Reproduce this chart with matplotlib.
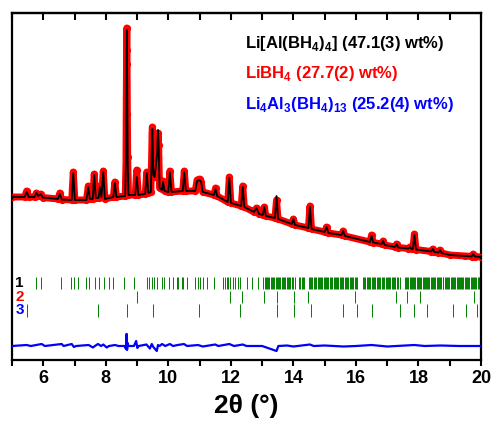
import matplotlib
matplotlib.use("Agg")
import matplotlib.pyplot as plt

plt.rcParams['font.family'] = ['Liberation Sans', 'DejaVu Sans']
plt.rcParams['font.weight'] = 'bold'
plt.rcParams['mathtext.fontset'] = 'custom'
plt.rcParams['mathtext.rm'] = 'Liberation Sans:bold'
plt.rcParams['mathtext.bf'] = 'Liberation Sans:bold'

# profile vertices (2theta, intensity in arbitrary units)
two_theta = [5.00, 5.40, 5.47, 5.54, 5.72, 5.78, 5.84, 5.92, 5.98, 6.47, 6.53, 6.59,
             6.91, 6.96, 7.01, 7.38, 7.44, 7.49, 7.58, 7.63, 7.68, 7.77, 7.81, 7.86,
             7.92, 7.97, 8.24, 8.29, 8.34, 8.62, 8.645, 8.655, 8.665, 8.672, 8.68, 8.69,
             8.70, 8.725, 8.94, 8.99, 9.04, 9.26, 9.31, 9.36, 9.44, 9.465, 9.48, 9.49,
             9.50, 9.52, 9.56, 9.64, 9.67, 9.69, 9.72, 9.80, 9.83, 9.88, 10.00, 10.05,
             10.10, 10.46, 10.51, 10.56, 10.86, 10.92, 11.00, 11.05, 11.10, 11.46, 11.51, 11.56,
             11.90, 11.95, 12.00, 12.33, 12.38, 12.43, 12.74, 12.82, 12.90, 13.02, 13.07, 13.12,
             13.41, 13.46, 13.51, 13.95, 14.00, 14.05, 14.48, 14.53, 14.58, 15.00, 15.06, 15.12,
             15.54, 15.59, 15.65, 16.45, 16.50, 16.55, 16.82, 16.87, 16.92, 17.25, 17.30, 17.35,
             17.68, 17.73, 17.78, 17.82, 17.87, 17.92, 18.41, 18.46, 18.51, 18.64, 18.69, 18.74,
             19.00, 19.50, 19.70, 19.75, 19.80, 20.00]
calc = [163, 163, 168, 163, 163, 167, 164, 166, 162.5, 161, 166, 160.5,
        160, 187, 160, 160, 173, 161, 161, 185, 162, 162, 173, 163,
        188, 161, 163, 177, 163, 164, 200, 250, 300, 330, 300, 250,
        200, 165, 165, 183, 165, 166, 187, 167, 168, 200, 225, 231,
        215, 185, 183, 205, 230, 215, 172, 170, 178, 169, 168, 188,
        168, 169, 188, 169, 169, 179, 180, 178, 168, 165, 171, 164,
        158, 182, 157, 154, 173, 153, 148, 152, 146, 145, 153, 144,
        142, 164, 141, 136, 141, 135, 132, 153, 131, 128, 133, 127,
        125, 129, 124, 118, 124, 117.5, 116, 119, 115, 113, 116, 112.5,
        111.5, 113, 111, 111, 125, 110.5, 108.5, 111, 108, 107.5, 110, 107,
        105, 104, 103.5, 106, 103.5, 103]
obs = [163, 163, 169, 163, 163, 167, 164, 166, 162.5, 161, 167, 160.5,
       160, 188, 160, 160, 174, 161, 161, 186, 162, 162, 174, 163,
       189, 161, 163, 178, 163, 164, 196, 262, 310, 332, 296, 246,
       203, 165, 165, 190, 165, 166, 188, 167, 168, 202, 228, 233,
       215, 185, 183, 200, 227, 215, 172, 171, 179, 169, 168, 189,
       168, 169, 189, 169, 169, 180, 181, 178, 168, 165, 172, 164,
       158, 183, 157, 154, 174, 153, 148, 152, 146, 145, 153, 144,
       142, 160, 141, 136, 141, 135, 132, 154, 131, 128, 133, 127,
       125, 129, 124, 118, 125, 117.5, 116, 119, 115, 113, 116, 112.5,
       111.5, 113, 111, 111, 126, 110.5, 108.5, 111, 108, 107.5, 110, 107,
       105, 104, 103.5, 106, 103.5, 103]

# difference curve (obs - calc)
diff_x = [5.00, 5.47, 5.60, 5.95, 6.05, 6.59, 6.65, 6.91, 6.98, 7.05, 7.45, 7.59,
          7.65, 7.75, 7.85, 7.92, 8.03, 8.10, 8.30, 8.40, 8.60, 8.645, 8.66, 8.672,
          8.68, 8.70, 8.72, 8.90, 8.97, 9.01, 9.05, 9.30, 9.41, 9.47, 9.52, 9.63,
          9.67, 9.72, 9.80, 9.90, 10.05, 10.15, 10.30, 10.50, 10.60, 10.95, 11.10, 11.50,
          11.60, 11.95, 12.10, 12.38, 12.50, 13.00, 13.46, 13.52, 13.80, 14.00, 14.53, 14.65,
          15.00, 15.60, 16.00, 16.50, 17.00, 17.87, 18.20, 18.70, 19.30, 20.00]
diff_y = [0, 1, 0, 2, 0, 2, 0, 2, -1, 0, 1, -1.5,
          0, 2, 0, 1.5, -1.5, 0, 1, 0, 0, -3, 12, 12,
          -4, 3, 0, 0, 5, -2, 0, 1.5, -2.5, 2, -1, -5,
          1, 0, 2, 0, 2, 0, 1, 2, 0, 1, -0.5, 1.5,
          0, 2, 0, 1.5, 0, 0, -5, 0, 0.5, -0.5, 1.5, 0,
          0.5, -0.5, 0, 1, -0.5, 1, 0, 0.5, 0, 0]

# Bragg reflection positions
hkl_1 = [5.76, 5.93, 6.57, 6.89, 6.98, 7.10, 7.37, 7.46, 7.65, 7.79, 7.95, 8.09,
         8.24, 8.59, 8.91, 9.31, 9.39, 9.47, 9.55, 9.63, 9.79, 9.87, 10.03, 10.14,
         10.27, 10.32, 10.43, 10.48, 10.59, 10.85, 10.94, 11.01, 11.10, 11.23, 11.47, 11.76,
         11.81, 11.87, 11.92, 11.97, 12.06, 12.13, 12.22, 12.29, 12.51, 12.67, 12.86,
         13.04, 13.08, 13.11, 13.15, 13.19, 13.22, 13.27, 13.30, 13.34, 13.38, 13.43, 13.46,
         13.50, 13.55, 13.58, 13.62, 13.66, 13.71, 13.74, 13.78, 13.83, 13.86, 13.90, 13.95,
         13.99, 14.04, 14.18, 14.22, 14.27, 14.31, 14.35,
         14.50, 14.54, 14.57, 14.61, 14.66, 14.69, 14.73, 14.78, 14.81, 14.85, 14.88, 14.93,
         14.97, 15.00, 15.05, 15.08, 15.12, 15.17, 15.20, 15.24, 15.29, 15.32, 15.36, 15.41,
         15.44, 15.48, 15.52, 15.57, 15.60, 15.64, 15.69, 15.72, 15.76, 15.80, 15.85, 15.88,
         15.92, 15.97, 16.00, 16.05,
         16.23, 16.27, 16.30, 16.34, 16.39, 16.42, 16.46, 16.51, 16.54, 16.58, 16.62, 16.67,
         16.70, 16.74, 16.78, 16.83, 16.86, 16.90, 16.95, 16.98, 17.02, 17.07, 17.10, 17.14,
         17.19, 17.22, 17.26, 17.31, 17.35, 17.40,
         17.57, 17.60, 17.64, 17.68, 17.72, 17.75, 17.79, 17.83, 17.87, 17.90, 17.94, 17.98,
         18.02, 18.05, 18.09, 18.13, 18.17, 18.20, 18.24, 18.28, 18.32, 18.35, 18.39, 18.43,
         18.47, 18.50, 18.54, 18.58, 18.62, 18.65, 18.69, 18.73, 18.77, 18.80, 18.84, 18.88,
         18.92, 18.95, 18.99, 19.03, 19.07, 19.10, 19.14, 19.18, 19.22, 19.25, 19.29, 19.33,
         19.37, 19.40, 19.44, 19.48, 19.52, 19.55, 19.59, 19.63, 19.67, 19.70, 19.74, 19.78,
         19.82, 19.85, 19.89, 19.93, 19.97]
hkl_2 = [8.99, 11.97, 12.36, 13.06, 13.47, 14.02, 14.47, 15.97, 17.28, 17.63, 18.05, 19.77]
hkl_3 = [5.47, 7.76, 8.67, 9.52, 10.99, 12.29, 13.47, 14.02, 14.55, 15.58, 16.05, 16.52,
         17.42, 17.86, 18.28, 19.11, 19.51, 19.88]

phase_labels = [r'Li[Al(BH$_{4}$)$_{4}$] (47.1(3) wt%)',
                r'LiBH$_{4}$ (27.7(2) wt%)',
                r'Li$_{4}$Al$_{3}$(BH$_{4}$)$_{13}$ (25.2(4) wt%)']
phase_colors = ['black', 'red', 'blue']

fig = plt.figure(figsize=(4.92, 4.24), dpi=100)
ax = fig.add_axes([12/492, 64/424, 469/492, 347/424])

# observed (red circles), calculated (black), difference (blue)
ax.plot(two_theta, obs, color='red', lw=5, solid_joinstyle='round', zorder=2)
ax.plot(two_theta, obs, 'o', mfc='none', mec='red', ms=4.2, mew=1, zorder=3)
ax.plot(two_theta, calc, color='black', lw=1.3, zorder=4)
ax.plot(diff_x, [d + 14 for d in diff_y], color='blue', lw=1.6, zorder=4)

# Bragg ticks
rows = [(71, 83), (57, 69), (43, 56)]
for pos, (lo, hi) in zip([hkl_1, hkl_2, hkl_3], rows):
    ax.vlines(pos, lo, hi, color='#008000', lw=0.7)

for i, (lo, hi) in enumerate(rows):
    ax.text(5.24, (lo + hi) / 2, str(i + 1), color=phase_colors[i], fontsize=11,
            fontweight='bold', ha='center', va='center')

for i, lab in enumerate(phase_labels):
    ax.text(0.497, [0.9135, 0.827, 0.735][i], lab, transform=ax.transAxes,
            color=phase_colors[i], fontsize=12, fontweight='bold', va='center', ha='left')

ax.set_xlim(5, 20)
ax.set_ylim(0, 347)
ax.set_xticks(range(6, 21, 2))
ax.set_xticks(range(5, 21, 1), minor=True)
ax.set_yticks([])
ax.tick_params(axis='x', which='both', direction='out', length=4, width=1.5,
               labelsize=13)
for lab in ax.get_xticklabels():
    lab.set_fontweight('bold')

# top ticks point inward
top = ax.secondary_xaxis('top')
top.set_xticks(range(6, 21, 2))
top.set_xticks(range(5, 21, 1), minor=True)
top.tick_params(axis='x', which='both', direction='in', length=5, width=1.5,
                labeltop=False)
top.spines['top'].set_linewidth(1.6)

for sp in ax.spines.values():
    sp.set_linewidth(1.6)
ax.set_xlabel('2θ (°)', fontsize=19, fontweight='bold', labelpad=5)

fig.savefig('out.png', dpi=100)
